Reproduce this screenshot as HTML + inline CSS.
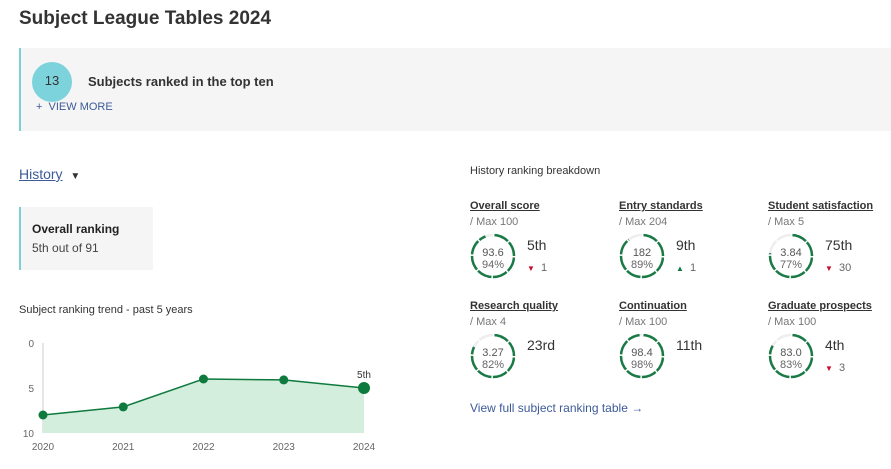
<!DOCTYPE html>
<html><head><meta charset="utf-8"><style>
body{margin:0;width:891px;height:469px;overflow:hidden;background:#fff;font-family:"Liberation Sans",sans-serif;color:#333;position:relative}
.a{position:absolute;white-space:nowrap}
.gt{font-size:11px;font-weight:bold;text-decoration:underline;color:#333}
.gm{font-size:11px;color:#777}
.rk{font-size:14px;color:#333}
.ch{font-size:11px;color:#666}
</style></head><body>
<div class="a" style="left:19px;top:8px;font-size:19px;font-weight:bold;color:#333">Subject League Tables 2024</div>
<div class="a" style="left:19px;top:48px;width:870px;height:83px;background:#f5f5f5;border-left:2px solid #7fcfd6"></div>
<div class="a" style="left:32px;top:62px;width:40px;height:40px;border-radius:50%;background:#7dd3dc;text-align:center;line-height:38px;font-size:13px;color:#333">13</div>
<div class="a" style="left:88px;top:74px;font-size:13px;font-weight:bold;color:#333">Subjects ranked in the top ten</div>
<div class="a" style="left:36px;top:101px;font-size:11px;color:#3d5a99">+&nbsp;&nbsp;VIEW MORE</div>
<div class="a" style="left:19px;top:166px;font-size:14px;color:#3d5a99"><span style="text-decoration:underline">History</span>&nbsp;&nbsp;<span style="color:#333;font-size:10px">▼</span></div>
<div class="a" style="left:19px;top:207px;width:132px;height:63px;background:#f5f5f5;border-left:2px solid #7fcfd6"></div>
<div class="a" style="left:32px;top:222px;font-size:12px;color:#222;font-weight:600">Overall ranking</div>
<div class="a" style="left:32px;top:241px;font-size:12px;color:#444">5th out of 91</div>
<div class="a" style="left:19px;top:304px;font-size:11px;color:#333">Subject ranking trend - past 5 years</div>
<svg class="a" style="left:0;top:330px" width="400" height="139" id="chart"></svg>
<div class="a" style="left:470px;top:165px;font-size:11px;color:#333">History ranking breakdown</div>
<div id="gauges"></div>
<div class="a" style="left:470px;top:401px;font-size:12px;color:#3d5a99">View full subject ranking table →</div>
<script>
const years=["2020","2021","2022","2023","2024"];
const ranks=[8,7.1,4,4.1,5];
const yTicks=[0,5,10];
const svg=document.getElementById('chart');
const NS='http://www.w3.org/2000/svg';
const x0=43,x1=364,yTop=13,yBot=103;
const X=i=>x0+(x1-x0)*i/(years.length-1);
const Y=v=>yTop+(yBot-yTop)*v/10;
function mk(t,a){const e=document.createElementNS(NS,t);for(const k in a)e.setAttribute(k,a[k]);svg.appendChild(e);return e;}
const ax=mk('line',{x1:x0,y1:yTop,x2:x0,y2:yBot,stroke:'#ccc'});


yTicks.forEach(v=>{const t=mk('text',{x:34,y:Y(v)+4,'text-anchor':'end','font-size':'10','fill':'#666','font-family':'Liberation Sans'});t.textContent=v;

});
let d='M'+X(0)+','+yBot;ranks.forEach((r,i)=>d+=' L'+X(i)+','+Y(r));d+=' L'+X(ranks.length-1)+','+yBot+' Z';
const ar=mk('path',{d:d,fill:'#d3eedc'});


const ln=mk('polyline',{points:ranks.map((r,i)=>X(i)+','+Y(r)).join(' '),fill:'none',stroke:'#0e7a3e','stroke-width':1.5});


ranks.forEach((r,i)=>{const last=i===ranks.length-1;const c=mk('circle',{cx:X(i),cy:Y(r),r:last?6:4.5,fill:'#0e7a3e'});


const t=mk('text',{x:X(i),y:yBot+17,'text-anchor':'middle','font-size':'10','fill':'#666','font-family':'Liberation Sans'});t.textContent=years[i];

});
const lab=mk('text',{x:X(4),y:Y(ranks[4])-10,'text-anchor':'middle','font-size':'10','fill':'#333','font-family':'Liberation Sans'});lab.textContent='5th';



const gTitles=["Overall score","Entry standards","Student satisfaction","Research quality","Continuation","Graduate prospects"];
const gMax=["/ Max 100","/ Max 204","/ Max 5","/ Max 4","/ Max 100","/ Max 100"];
const gVal=["93.6","182","3.84","3.27","98.4","83.0"];
const gPct=[94,89,77,82,98,83];
const gRank=["5th","9th","75th","23rd","11th","4th"];
const gChg=[-1,1,-30,0,0,-3];
const host=document.getElementById('gauges');
gTitles.forEach((t,i)=>{
 const gx=470+149*(i%3), gy=200+100*Math.floor(i/3);
 const g=document.createElement('div');g.className='a';g.style.left=gx+'px';g.style.top=gy+'px';
 
 
 const C=2*Math.PI*21;const p=gPct[i]/100*C;
 let chg='';
 if(gChg[i]!==0){const up=gChg[i]>0;chg=`<div class="a ch" style="left:57px;top:62px"><span style="color:${up?'#0e7a3e':'#c8102e'};font-size:8px">${up?'▲':'▼'}</span>&nbsp; ${Math.abs(gChg[i])}</div>`;}
 g.innerHTML=`<div class="a gt" style="left:0;top:0">${t}</div><div class="a gm" style="left:0;top:16px">${gMax[i]}</div>
 <svg class="a" style="left:-1px;top:32px" width="48" height="48"><circle cx="24" cy="24" r="21" fill="none" stroke="#eee" stroke-width="2.5"/>
 <circle cx="24" cy="24" r="21" fill="none" stroke="#1a7a45" stroke-width="2.5" stroke-dasharray="${p} ${C}" transform="rotate(-90 24 24)"/>
 <circle cx="24" cy="24" r="21" fill="none" stroke="#fff" stroke-width="3" stroke-dasharray="1.5 ${C/8-1.5}" transform="rotate(-90 24 24)"/>
 <text x="24" y="24" text-anchor="middle" font-size="11" fill="#555" font-family="Liberation Sans">${gVal[i]}</text>
 <text x="24" y="36" text-anchor="middle" font-size="11" fill="#666" font-family="Liberation Sans">${gPct[i]}%</text></svg>
 <div class="a rk" style="left:57px;top:37px">${gRank[i]}</div>${chg}`;
 host.appendChild(g);
});
</script>
</body></html>
